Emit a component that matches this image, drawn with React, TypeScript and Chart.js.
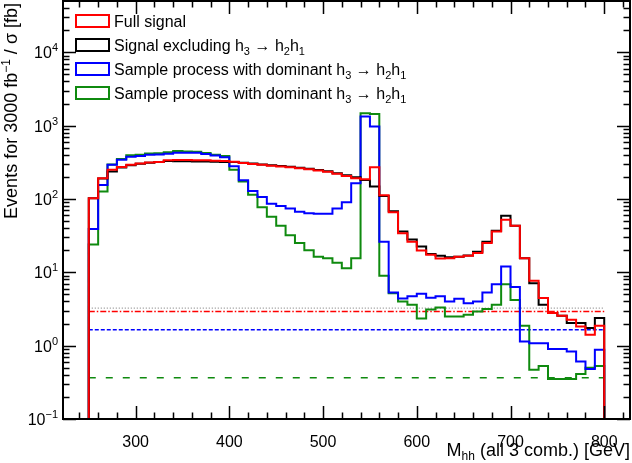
import React, { useEffect, useRef } from "react";
import { Chart, registerables } from "chart.js";

Chart.register(...registerables);

const binLow = [
  250, 260, 270, 280, 290, 300, 310, 320, 330, 340, 350, 360, 370, 380, 390,
  400, 410, 420, 430, 440, 450, 460, 470, 480, 490, 500, 510, 520, 530, 540,
  550, 560, 570, 580, 590, 600, 610, 620, 630, 640, 650, 660, 670, 680, 690,
  700, 710, 720, 730, 740, 750, 760, 770, 780, 790,
];
const binHigh = 800;

const fullSignal = [
  102, 192, 250, 272, 292, 305, 315, 320, 338, 340, 340, 338, 336, 333, 328,
  322, 310, 300, 292, 284, 277, 270, 262, 255, 245, 235, 220, 205, 192, 186,
  270, 112, 66, 34, 26, 19.8, 17.3, 15.4, 15.6, 16.3, 16.8, 18.3, 25, 36, 52,
  43, 15.6, 7.7, 4.45, 2.78, 2.55, 2.25, 1.83, 1.41, 1.87,
];
const signalExcl = [
  102, 190, 237, 268, 288, 303, 312, 318, 328, 326, 326, 325, 324, 322, 320,
  318, 312, 304, 296, 289, 282, 275, 267, 258, 248, 238, 224, 210, 198, 182,
  148, 110, 68, 36, 28, 22.4, 17.8, 16.8, 16, 16.3, 17, 19, 26, 37, 59,
  43, 15.6, 7.1, 3.6, 2.78, 2.55, 2.03, 2.03, 1.74, 2.38,
];
const sampleBlue = [
  39, 155, 292, 342, 375, 385, 400, 405, 415, 428, 426, 428, 411, 392, 370,
  280, 180, 128, 106, 86, 80, 74, 67, 64, 63, 63, 74, 90, 164, 1330,
  970, 26, 5.3, 4.4, 4.7, 5.1, 4.5, 4.7, 4.0, 4.35, 3.8, 4.0, 5.3, 6.9, 12.0,
  6.3, 1.14, 1.08, 1.08, 0.9, 0.9, 0.83, 0.61, 0.48, 0.88,
];
const sampleGreen = [
  24, 126, 295, 350, 395, 402, 418, 421, 435, 450, 445, 440, 422, 400, 385,
  250, 173, 114, 77, 57, 43, 32, 25, 20, 16.3, 15.5, 13.5, 11.4, 15.6, 1470,
  1440, 9, 5.2, 4.0, 3.6, 2.35, 3.1, 3.3, 2.5, 2.5, 2.63, 2.92, 3.15, 3.6, 6.9,
  4.2, 1.87, 0.47, 0.53, 0.35, 0.35, 0.35, 0.41, 0.5, 0.53,
];

const levelBlack = 3.25;
const levelRed = 2.92;
const levelBlue = 1.65;
const levelGreen = 0.366;

const xMajorTicks = [300, 400, 500, 600, 700, 800];
const xMinorTicks = [240, 260, 280, 320, 340, 360, 380, 420, 440, 460, 480, 520, 540, 560, 580, 620, 640, 660, 680, 720, 740, 760, 780, 820];
const yExponents = [-1, 0, 1, 2, 3, 4];
const yMinorMult = [2, 3, 4, 5, 6, 7, 8, 9];

const RED = "#ff0000";
const BLACK = "#000000";
const BLUE = "#0000ff";
const GREEN = "#0f8a0f";

const FONT = "'Liberation Sans', Arial, Helvetica, sans-serif";

type Seg = { t: string; size: number; dy?: number };

const legendItems: { color: string; segs: Seg[] }[] = [
  { color: RED, segs: [{ t: "Full signal", size: 16 }] },
  {
    color: BLACK,
    segs: [
      { t: "Signal excluding h", size: 16 },
      { t: "3", size: 11, dy: 4 },
      { t: " \u2192 h", size: 16 },
      { t: "2", size: 11, dy: 4 },
      { t: "h", size: 16 },
      { t: "1", size: 11, dy: 4 },
    ],
  },
  {
    color: BLUE,
    segs: [
      { t: "Sample process with dominant h", size: 16 },
      { t: "3", size: 11, dy: 4 },
      { t: " \u2192 h", size: 16 },
      { t: "2", size: 11, dy: 4 },
      { t: "h", size: 16 },
      { t: "1", size: 11, dy: 4 },
    ],
  },
  {
    color: GREEN,
    segs: [
      { t: "Sample process with dominant h", size: 16 },
      { t: "3", size: 11, dy: 4 },
      { t: " \u2192 h", size: 16 },
      { t: "2", size: 11, dy: 4 },
      { t: "h", size: 16 },
      { t: "1", size: 11, dy: 4 },
    ],
  },
];

function drawRich(ctx: CanvasRenderingContext2D, segs: Seg[], x: number, y: number, align: "left" | "right" | "center") {
  let total = 0;
  const widths = segs.map((s) => {
    ctx.font = `${s.size}px ${FONT}`;
    const w = ctx.measureText(s.t).width;
    total += w;
    return w;
  });
  let cx = align === "right" ? x - total : align === "center" ? x - total / 2 : x;
  ctx.textAlign = "left";
  ctx.textBaseline = "alphabetic";
  segs.forEach((s, i) => {
    ctx.font = `${s.size}px ${FONT}`;
    ctx.fillText(s.t, cx, y + (s.dy || 0));
    cx += widths[i];
  });
}

function histPoints(vals: number[]) {
  const pts: { x: number; y: number }[] = [{ x: binLow[0], y: 0.001 }];
  vals.forEach((v, i) => pts.push({ x: binLow[i], y: v }));
  pts.push({ x: binHigh, y: vals[vals.length - 1] });
  pts.push({ x: binHigh, y: 0.001 });
  return pts;
}

function levelPoints(v: number) {
  return [
    { x: binLow[0], y: v },
    { x: binHigh, y: v },
  ];
}

const decorPlugin = {
  id: "decor",
  afterDraw(chart: any) {
    const ctx: CanvasRenderingContext2D = chart.ctx;
    const { left, right, top, bottom } = chart.chartArea;
    const xs = chart.scales.x;
    const ys = chart.scales.y;
    ctx.save();
    ctx.strokeStyle = "#000";
    ctx.fillStyle = "#000";
    // frame
    ctx.lineWidth = 2;
    ctx.strokeRect(left, top, right - left, bottom - top);
    ctx.lineWidth = 1.5;
    const majL = 13;
    const minL = 6.5;
    ctx.beginPath();
    xMajorTicks.forEach((v) => {
      const px = Math.round(xs.getPixelForValue(v)) + 0.5;
      ctx.moveTo(px, bottom);
      ctx.lineTo(px, bottom - majL);
      ctx.moveTo(px, top);
      ctx.lineTo(px, top + majL);
    });
    xMinorTicks.forEach((v) => {
      const px = Math.round(xs.getPixelForValue(v)) + 0.5;
      ctx.moveTo(px, bottom);
      ctx.lineTo(px, bottom - minL);
      ctx.moveTo(px, top);
      ctx.lineTo(px, top + minL);
    });
    yExponents.forEach((e) => {
      const py = Math.round(ys.getPixelForValue(Math.pow(10, e))) + 0.5;
      ctx.moveTo(left, py);
      ctx.lineTo(left + majL, py);
      ctx.moveTo(right, py);
      ctx.lineTo(right - majL, py);
      if (e < 4) {
        yMinorMult.forEach((m) => {
          const qy = Math.round(ys.getPixelForValue(m * Math.pow(10, e))) + 0.5;
          ctx.moveTo(left, qy);
          ctx.lineTo(left + minL, qy);
          ctx.moveTo(right, qy);
          ctx.lineTo(right - minL, qy);
        });
      }
    });
    [2, 3, 4].forEach((m) => {
      const qy = Math.round(ys.getPixelForValue(m * 1e4)) + 0.5;
      if (qy > top + 1) {
        ctx.moveTo(left, qy);
        ctx.lineTo(left + minL, qy);
        ctx.moveTo(right, qy);
        ctx.lineTo(right - minL, qy);
      }
    });
    ctx.stroke();

    // x tick labels
    xMajorTicks.forEach((v) => {
      drawRich(ctx, [{ t: String(v), size: 16 }], xs.getPixelForValue(v), 447, "center");
    });
    // y tick labels
    yExponents.forEach((e) => {
      const py = ys.getPixelForValue(Math.pow(10, e));
      drawRich(
        ctx,
        [
          { t: "10", size: 16 },
          { t: e < 0 ? "\u2212" + String(-e) : String(e), size: 11, dy: -7 },
        ],
        58,
        py + 6,
        "right"
      );
    });

    // x title
    drawRich(
      ctx,
      [
        { t: "M", size: 18 },
        { t: "hh", size: 12, dy: 4 },
        { t: " (all 3 comb.) [GeV]", size: 18 },
      ],
      630,
      456,
      "right"
    );

    // y title
    ctx.save();
    ctx.translate(17, 3);
    ctx.rotate(-Math.PI / 2);
    drawRich(
      ctx,
      [
        { t: "Events for 3000 fb", size: 18 },
        { t: "\u22121", size: 12, dy: -7 },
        { t: " / \u03c3 [fb]", size: 18 },
      ],
      0,
      0,
      "right"
    );
    ctx.restore();

    // legend
    const rows = [21, 45, 69, 93];
    legendItems.forEach((it, i) => {
      const cy = rows[i];
      ctx.lineWidth = 2;
      ctx.strokeStyle = it.color;
      ctx.fillStyle = "#fff";
      ctx.fillRect(76, cy - 6, 33, 12);
      ctx.strokeRect(76, cy - 6, 33, 12);
      ctx.fillStyle = "#000";
      drawRich(ctx, it.segs, 114, cy + 6, "left");
    });
    ctx.restore();
  },
};

export default function App() {
  const ref = useRef<HTMLCanvasElement | null>(null);
  useEffect(() => {
    document.body.style.margin = "0";
    const canvas = ref.current;
    if (!canvas) return;
    const histDs = (data: number[], color: string) => ({
      data: histPoints(data),
      borderColor: color,
      backgroundColor: color,
      borderWidth: 2,
      pointRadius: 0,
      stepped: true as const,
      fill: false,
      tension: 0,
    });
    const levelDs = (v: number, color: string, dash: number[], width: number) => ({
      data: levelPoints(v),
      borderColor: color,
      backgroundColor: color,
      borderWidth: width,
      borderDash: dash,
      pointRadius: 0,
      fill: false,
    });
    const chart = new Chart(canvas, {
      type: "line",
      data: {
        datasets: [
          histDs(fullSignal, RED),
          histDs(signalExcl, BLACK),
          histDs(sampleBlue, BLUE),
          histDs(sampleGreen, GREEN),
          levelDs(levelRed, RED, [6, 2, 1.5, 2], 1.5),
          levelDs(levelBlack, "rgba(0,0,0,0.45)", [1, 2], 1.2),
          levelDs(levelBlue, BLUE, [4, 2], 1.5),
          levelDs(levelGreen, GREEN, [7, 10], 1.5),
        ] as any,
      },
      options: {
        responsive: false,
        animation: false,
        devicePixelRatio: 1,
        layout: { padding: { top: 1, right: 2, left: 0, bottom: 0 } },
        plugins: { legend: { display: false }, tooltip: { enabled: false } },
        scales: {
          x: {
            type: "linear",
            min: 222.5,
            max: 827.5,
            grid: { display: false },
            border: { display: false },
            ticks: { display: false },
            afterFit: (s: any) => {
              s.height = 44;
            },
          },
          y: {
            type: "logarithmic",
            min: 0.1,
            max: 5e4,
            grid: { display: false },
            border: { display: false },
            ticks: { display: false },
            afterFit: (s: any) => {
              s.width = 63;
            },
          },
        },
      } as any,
      plugins: [decorPlugin],
    });
    return () => chart.destroy();
  }, []);
  return (
    <canvas
      ref={ref}
      width={632}
      height={463}
      style={{ display: "block", width: 632, height: 463, background: "#fff" }}
    />
  );
}
